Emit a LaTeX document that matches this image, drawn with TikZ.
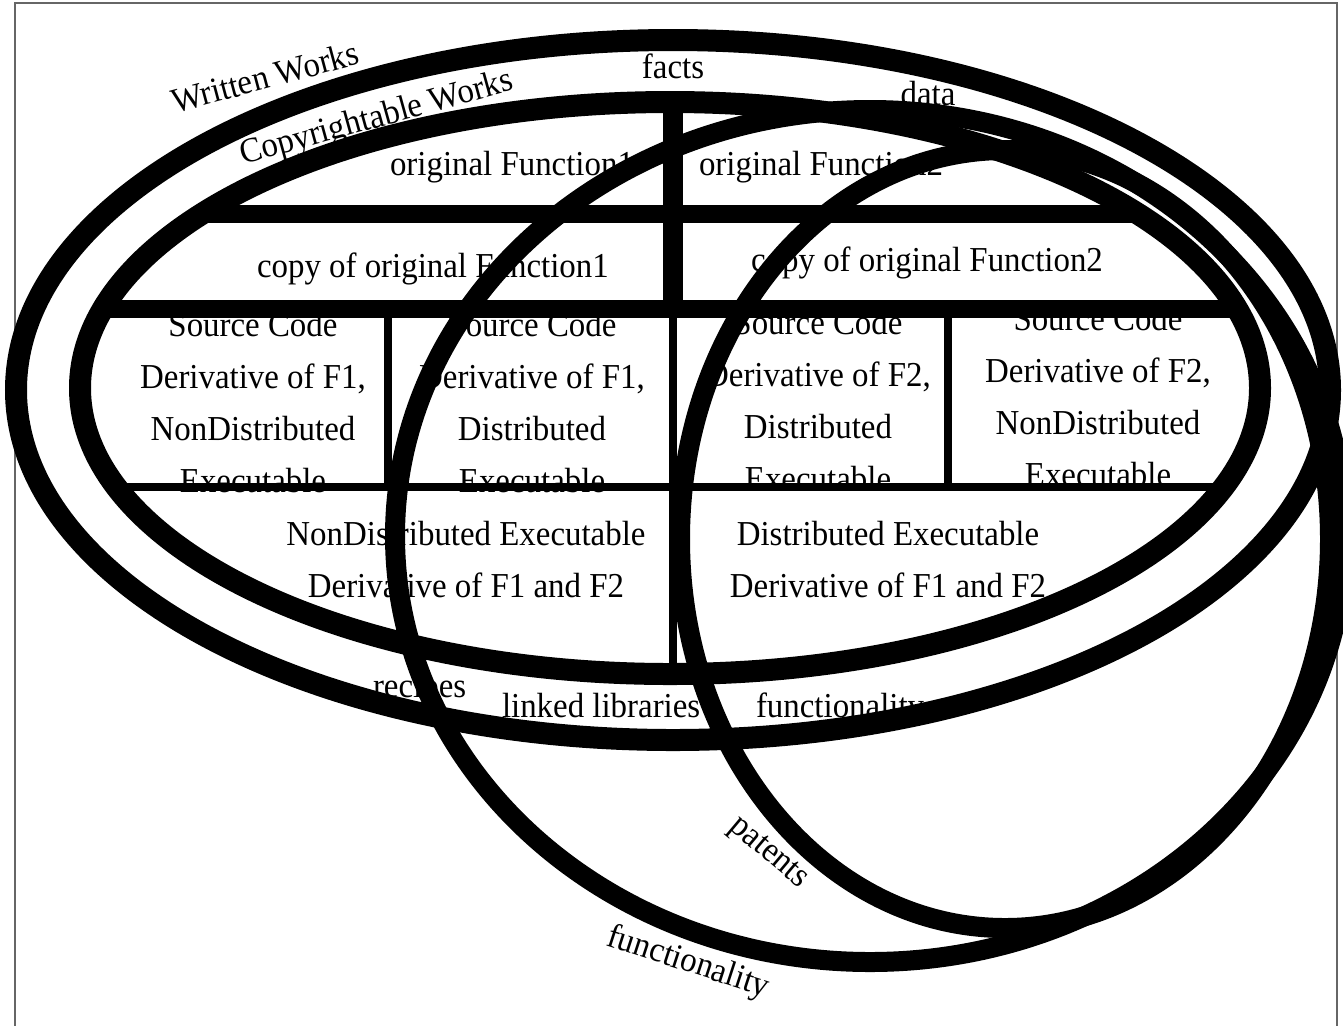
\documentclass[tikz,border=0pt]{standalone}
\usepackage{fontspec}
\setmainfont{Liberation Serif}[FakeStretch=0.94]
\begin{document}
\begin{tikzpicture}[x=0.5pt,y=-0.5pt,
  lbl/.style={inner sep=0pt, outer sep=0pt, font=\fontsize{17.5pt}{26pt}\selectfont, align=center},
  band/.style={draw=black, line width=11pt},
  ring/.style={draw=black, line width=10pt},
  thickrule/.style={draw=black, line width=9pt},
  thinrule/.style={draw=black, line width=3.8pt},
  frame/.style={draw=black!60, line width=0.7pt}]
\useasboundingbox (0,0) rectangle (1343,1025);
\fill[white] (0,0) rectangle (1343,1025);
\draw[frame] (15,1030) -- (15,3) -- (1337,3) -- (1337,1030);

% centres of the four regions
\coordinate (cW) at (673,390);
\coordinate (cC) at (670,388);
\coordinate (cF) at (870,536);
\coordinate (cP) at (1005,539);

% labels of the outer regions
\node[lbl, rotate=15] (ww) at (265,77) {Written Works};
\node[lbl, rotate=15.5] (cw) at (377,119) {Copyrightable Works};
\node[lbl, anchor=base] (facts) at (673,78) {facts};
\node[lbl, anchor=base] (data) at (928,105) {data};

% table cells (base anchor sits on the last line)
\node[lbl, anchor=base west] (of1) at (390,175) {original Function1};
\node[lbl, anchor=base west] (of2) at (699,175) {original Function2};
\node[lbl, anchor=base west] (cf1) at (257,277) {copy of original Function1};
\node[lbl, anchor=base] (cf2) at (927,271) {copy of original Function2};
\node[lbl, anchor=base] (s1) at (253,492) {Source Code\\Derivative of F1,\\NonDistributed\\Executable};
\node[lbl, anchor=base] (s2) at (532,492) {Source Code\\Derivative of F1,\\Distributed\\Executable};
\node[lbl, anchor=base] (s3) at (818,490) {Source Code\\Derivative of F2,\\Distributed\\Executable};
\node[lbl, anchor=base] (s4) at (1098,486) {Source Code\\Derivative of F2,\\NonDistributed\\Executable};
\node[lbl, anchor=base] (nd) at (466,597) {NonDistributed Executable\\Derivative of F1 and F2};
\node[lbl, anchor=base] (di) at (888,597) {Distributed Executable\\Derivative of F1 and F2};

% labels below the table
\node[lbl, anchor=base west] (rec) at (373,697) {recipes};
\node[lbl, anchor=base west] (lib) at (502,717) {linked libraries};
\node[lbl, anchor=base west] (fn1) at (756,717) {functionality};
\node[lbl, rotate=-40] (pat) at (768,854) {patents};
\node[lbl, rotate=-18] (fn2) at (688,963) {functionality};

% grid of the table, kept inside the copyrightable region
\begin{scope}
  \clip (cC) ellipse [x radius=590, y radius=286];
  \draw[thickrule] (0,214) -- (1343,214);
  \draw[thickrule] (0,309) -- (1343,309);
  \draw[thinrule] (0,487) -- (1343,487);
  \draw[draw=black, line width=10pt] (673,0) -- (673,309);
  \draw[thinrule] (673,309) -- (673,800);
  \draw[thinrule] (388,309) -- (388,487);
  \draw[thinrule] (948,309) -- (948,487);
\end{scope}

% region outlines
\draw[band] (cW) ellipse [x radius=657, y radius=350];
\draw[band] (cC) ellipse [x radius=590, y radius=286];
\draw[ring] (cF) ellipse [x radius=475, y radius=426];
\draw[ring] (cP) ellipse [x radius=325, y radius=389];
\end{tikzpicture}
\end{document}
